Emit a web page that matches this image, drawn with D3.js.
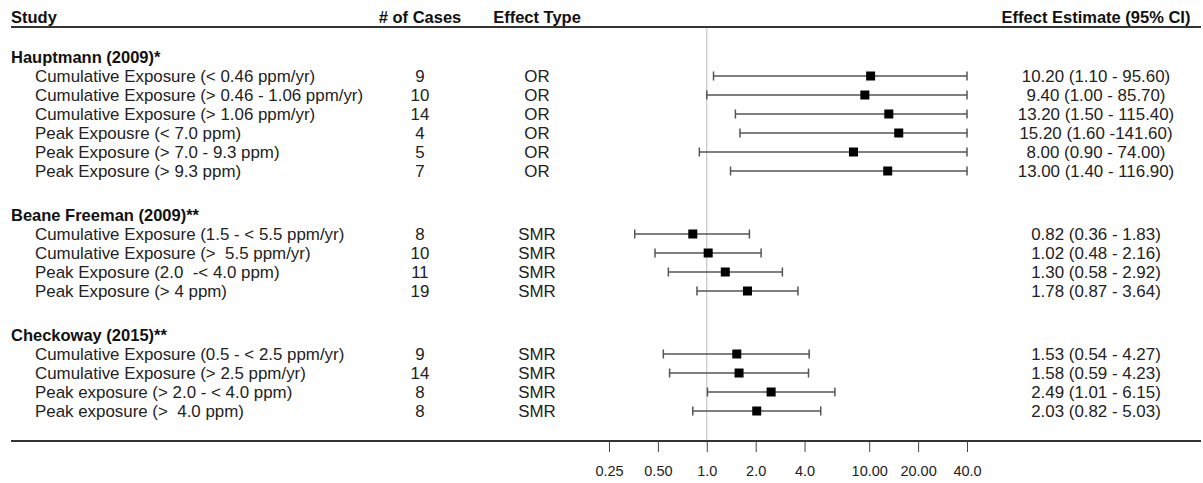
<!DOCTYPE html>
<html>
<head>
<meta charset="utf-8">
<script src="https://cdn.jsdelivr.net/npm/d3@7"></script>
<style>
  html, body { margin: 0; padding: 0; background: #fff; }
  svg { display: block; font-family: "Liberation Sans", Arial, sans-serif; }
  svg text { white-space: pre; }
</style>
</head>
<body>
<div id="chart"></div>
<script>
// studies (group titles) and the rows belonging to each
var studyNames = ['Hauptmann (2009)*', 'Beane Freeman (2009)**', 'Checkoway (2015)**'];
var rowStudy = [0, 0, 0, 0, 0, 0, 1, 1, 1, 1, 2, 2, 2, 2];
var rowLabels = [
  'Cumulative Exposure (< 0.46 ppm/yr)',
  'Cumulative Exposure (> 0.46 - 1.06 ppm/yr)',
  'Cumulative Exposure (> 1.06 ppm/yr)',
  'Peak Expousre (< 7.0 ppm)',
  'Peak Exposure (> 7.0 - 9.3 ppm)',
  'Peak Exposure (> 9.3 ppm)',
  'Cumulative Exposure (1.5 - < 5.5 ppm/yr)',
  'Cumulative Exposure (>  5.5 ppm/yr)',
  'Peak Exposure (2.0  -< 4.0 ppm)',
  'Peak Exposure (> 4 ppm)',
  'Cumulative Exposure (0.5 - < 2.5 ppm/yr)',
  'Cumulative Exposure (> 2.5 ppm/yr)',
  'Peak exposure (> 2.0 - < 4.0 ppm)',
  'Peak exposure (>  4.0 ppm)'
];
var rowCases = [9, 10, 14, 4, 5, 7, 8, 10, 11, 19, 9, 14, 8, 8];
var rowTypes = ['OR', 'OR', 'OR', 'OR', 'OR', 'OR', 'SMR', 'SMR', 'SMR', 'SMR', 'SMR', 'SMR', 'SMR', 'SMR'];
var rowEst = [10.20, 9.40, 13.20, 15.20, 8.00, 13.00, 0.82, 1.02, 1.30, 1.78, 1.53, 1.58, 2.49, 2.03];
var rowLo = [1.10, 1.00, 1.50, 1.60, 0.90, 1.40, 0.36, 0.48, 0.58, 0.87, 0.54, 0.59, 1.01, 0.82];
var rowHi = [95.60, 85.70, 115.40, 141.60, 74.00, 116.90, 1.83, 2.16, 2.92, 3.64, 4.27, 4.23, 6.15, 5.03];
var rowCI = [
  '10.20 (1.10 - 95.60)', '9.40 (1.00 - 85.70)', '13.20 (1.50 - 115.40)',
  '15.20 (1.60 -141.60)', '8.00 (0.90 - 74.00)', '13.00 (1.40 - 116.90)',
  '0.82 (0.36 - 1.83)', '1.02 (0.48 - 2.16)', '1.30 (0.58 - 2.92)', '1.78 (0.87 - 3.64)',
  '1.53 (0.54 - 4.27)', '1.58 (0.59 - 4.23)', '2.49 (1.01 - 6.15)', '2.03 (0.82 - 5.03)'
];
var tickValues = [0.25, 0.5, 1, 2, 4, 10, 20, 40];
var tickLabels = ['0.25', '0.50', '1.0', '2.0', '4.0', '10.00', '20.00', '40.0'];
var headers = ['Study', '# of Cases', 'Effect Type', 'Effect Estimate (95% CI)'];

var width = 1203,
    height = 483;

var colStudy = 11, colLabel = 35, colCases = 420, colType = 537, colCI = 1096;
var headerY = 27, bottomY = 441;
var rowStep = 19, groupGap = 44, firstTitleY = 57;
var fontSize = '16.9px';

var svg = d3.select('#chart').append('svg')
    .attr('width', width)
    .attr('height', height);

var x = d3.scaleLog().base(2)
    .domain([0.25, 40])
    .range([609, 967]);

// lay out group titles and rows top to bottom
var titleY = [], rowY = [];
var y = firstTitleY;
studyNames.forEach(function(name, g) {
  if (g > 0) y += groupGap;
  titleY.push(y);
  rowStudy.forEach(function(s, i) {
    if (s === g) { y += rowStep; rowY[i] = y; }
  });
});

// header
var head = svg.append('g').attr('class', 'header')
    .attr('font-size', '16.5px').attr('font-weight', 'bold').attr('fill', '#111');
head.append('text').attr('x', colStudy).attr('y', headerY - 4).text(headers[0]);
head.append('text').attr('x', colCases).attr('y', headerY - 4).attr('text-anchor', 'middle').text(headers[1]);
head.append('text').attr('x', colType).attr('y', headerY - 4).attr('text-anchor', 'middle').text(headers[2]);
head.append('text').attr('x', colCI).attr('y', headerY - 4).attr('text-anchor', 'middle').text(headers[3]);
svg.append('line')
    .attr('x1', colStudy).attr('x2', 1201)
    .attr('y1', headerY).attr('y2', headerY)
    .attr('stroke', '#333').attr('stroke-width', 2);

// reference line at 1.0
svg.append('line')
    .attr('x1', x(1)).attr('x2', x(1))
    .attr('y1', headerY + 1).attr('y2', bottomY)
    .attr('stroke', '#bbb').attr('stroke-width', 1);

// group titles
svg.selectAll('.title')
  .data(studyNames).enter().append('text')
    .attr('class', 'title')
    .attr('x', colStudy)
    .attr('y', function(d, i) { return titleY[i]; })
    .attr('dy', '0.35em')
    .attr('font-size', '16.5px')
    .attr('font-weight', 'bold')
    .attr('fill', '#111')
    .text(function(d) { return d; });

// rows
var row = svg.selectAll('.row')
  .data(rowLabels).enter().append('g')
    .attr('class', 'row')
    .attr('transform', function(d, i) { return 'translate(0,' + rowY[i] + ')'; });

row.append('text')
    .attr('x', colLabel).attr('dy', '0.35em')
    .attr('font-size', fontSize).attr('fill', '#222')
    .text(function(d) { return d; });
row.append('text')
    .attr('x', colCases).attr('dy', '0.35em').attr('text-anchor', 'middle')
    .attr('font-size', fontSize).attr('fill', '#222')
    .text(function(d, i) { return rowCases[i]; });
row.append('text')
    .attr('x', colType).attr('dy', '0.35em').attr('text-anchor', 'middle')
    .attr('font-size', fontSize).attr('fill', '#222')
    .text(function(d, i) { return rowTypes[i]; });
row.append('text')
    .attr('x', colCI).attr('dy', '0.35em').attr('text-anchor', 'middle')
    .attr('font-size', fontSize).attr('fill', '#222')
    .text(function(d, i) { return rowCI[i]; });

// confidence intervals, clipped at the axis limits
function clampX(v) { return x(Math.max(0.25, Math.min(40, v))); }
row.append('line')
    .attr('x1', function(d, i) { return clampX(rowLo[i]); })
    .attr('x2', function(d, i) { return clampX(rowHi[i]); })
    .attr('stroke', '#555').attr('stroke-width', 1.5);
row.append('line')
    .attr('x1', function(d, i) { return clampX(rowLo[i]); })
    .attr('x2', function(d, i) { return clampX(rowLo[i]); })
    .attr('y1', -4.5).attr('y2', 4.5)
    .attr('stroke', '#555').attr('stroke-width', 1.5);
row.append('line')
    .attr('x1', function(d, i) { return clampX(rowHi[i]); })
    .attr('x2', function(d, i) { return clampX(rowHi[i]); })
    .attr('y1', -4.5).attr('y2', 4.5)
    .attr('stroke', '#555').attr('stroke-width', 1.5);
row.append('rect')
    .attr('x', function(d, i) { return x(rowEst[i]) - 4.5; })
    .attr('y', -4.5)
    .attr('width', 9).attr('height', 9)
    .attr('fill', '#000');

// bottom rule and axis
svg.append('line')
    .attr('x1', colStudy).attr('x2', 1201)
    .attr('y1', bottomY).attr('y2', bottomY)
    .attr('stroke', '#333').attr('stroke-width', 2);

var axis = d3.axisBottom(x)
    .tickValues(tickValues)
    .tickFormat(function(d, i) { return tickLabels[i]; })
    .tickSize(11)
    .tickPadding(14);

var gAxis = svg.append('g')
    .attr('transform', 'translate(0,' + bottomY + ')')
    .call(axis);
gAxis.select('.domain').remove();
gAxis.selectAll('.tick line').attr('stroke', '#444');
gAxis.selectAll('.tick text')
    .attr('font-size', '14.5px')
    .attr('font-family', '"Liberation Sans", Arial, sans-serif')
    .attr('fill', '#222');
</script>
</body>
</html>
